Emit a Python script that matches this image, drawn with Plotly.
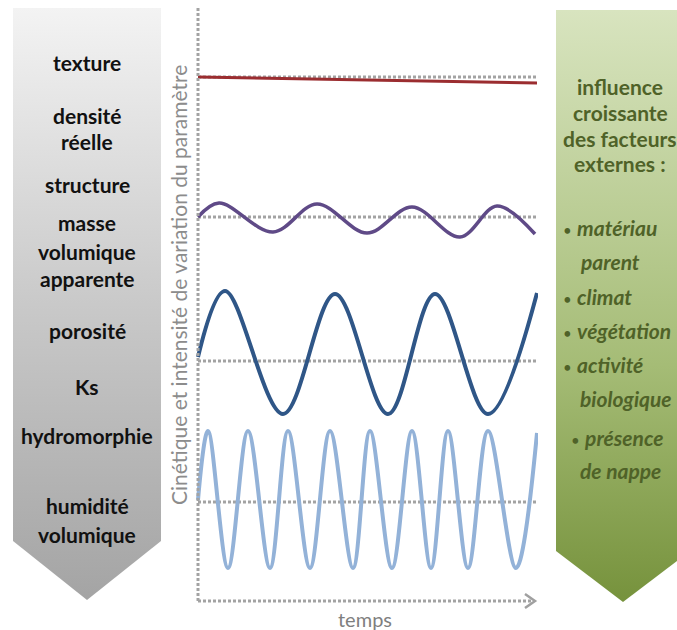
import plotly.graph_objects as go

# --- data (time 0..340, parameter value 0..600) ---
RED_T = [0, 339]
RED_V = [524, 518]
RED_BASE = 524

PURPLE_T = [0, 21, 75, 119, 169, 214, 262, 299, 337]
PURPLE_V = [384, 398, 369, 397, 368, 394, 364, 395, 367]
PURPLE_BASE = 384

DARK_T = [0, 27, 85, 137, 190, 237, 290, 339]
DARK_V = [244, 310, 187, 307, 187, 307, 187, 308]
DARK_BASE = 240

LIGHT_T = [0, 10, 30, 50, 72, 90, 112, 132, 155, 172, 194, 214, 233, 250, 270, 290, 318, 339]
LIGHT_V = [101, 170, 33, 170, 33, 170, 33, 170, 33, 170, 33, 170, 33, 170, 33, 170, 33, 168]
LIGHT_BASE = 99

LEFT_LABELS = [
    ("texture", 62), ("densité", 115), ("réelle", 141), ("structure", 184),
    ("masse", 222), ("volumique", 251), ("apparente", 278), ("porosité", 330),
    ("Ks", 386), ("hydromorphie", 435), ("humidité", 505), ("volumique", 534),
]
RIGHT_HEAD = [("influence", 86), ("croissante", 112), ("des facteurs", 138), ("externes :", 163)]
RIGHT_ITEMS = [
    ("•", "matériau", 561, 227), ("", "parent", 578, 261), ("•", "climat", 561, 296),
    ("•", "végétation", 561, 330), ("•", "activité", 561, 364), ("", "biologique", 578, 398),
    ("•", "présence", 569, 437), ("", "de nappe", 578, 470),
]

W, H = 677, 630
FONT = "Lato"
GREY_DOT = "#a3a3a3"

fig = go.Figure()

# --- side arrows (pixel-like overlay axes x2/y2) ---
left_x = [13, 161, 161, 87, 13, 13]
left_y = [H - v for v in [8, 8, 541, 600, 541, 8]]
right_x = [556, 690, 690, 623, 556, 556]
right_y = [H - v for v in [10, 10, 551, 602, 551, 10]]

fig.add_trace(go.Scatter(
    x=left_x, y=left_y, xaxis="x2", yaxis="y2", mode="lines", fill="toself",
    line=dict(width=0),
    fillgradient=dict(type="vertical", colorscale=[[0, "#a4a4a4"], [0.5, "#c9c9c9"], [1, "#f3f3f3"]]),
    hoverinfo="skip",
))
fig.add_trace(go.Scatter(
    x=right_x, y=right_y, xaxis="x2", yaxis="y2", mode="lines", fill="toself",
    line=dict(width=0),
    fillgradient=dict(type="vertical", colorscale=[[0, "#76923c"], [0.4, "#a5bc76"], [1, "#d8e4bf"]]),
    hoverinfo="skip",
))

# --- dotted baselines ---
dot = dict(color=GREY_DOT, width=3, dash="3px,2px")
for base in [RED_BASE, PURPLE_BASE, DARK_BASE, LIGHT_BASE]:
    fig.add_shape(type="line", x0=0, x1=339, y0=base, y1=base, xref="x", yref="y",
                  line=dot, layer="below")

# --- axes (dotted, with arrow on time) ---
fig.add_shape(type="line", x0=0, x1=0, y0=0, y1=593, xref="x", yref="y", line=dot)
fig.add_shape(type="line", x0=0, x1=333, y0=0, y1=0, xref="x", yref="y", line=dot)
fig.add_shape(type="path", path="M 327,7 L 337,0 L 327,-7", xref="x", yref="y",
              line=dict(color="#a0a0a0", width=2.5))

# --- series ---
series = [
    (RED_T, RED_V, "#9b2d30", 3, "linear"),
    (PURPLE_T, PURPLE_V, "#5f4a87", 3.5, "spline"),
    (DARK_T, DARK_V, "#2f5687", 4, "spline"),
    (LIGHT_T, LIGHT_V, "#93b2d8", 4, "spline"),
]
for t, v, col, w, shp in series:
    fig.add_trace(go.Scatter(x=t, y=v, mode="lines", line=dict(color=col, width=w, shape=shp),
                             hoverinfo="skip"))

# --- texts ---
ann = []
for txt, py in LEFT_LABELS:
    ann.append(dict(x=87, y=H - py, xref="x2", yref="y2", text=f"<b>{txt}</b>", showarrow=False,
                    font=dict(family=FONT, size=21, color="#111111")))
for txt, py in RIGHT_HEAD:
    ann.append(dict(x=620, y=H - py, xref="x2", yref="y2", text=f"<b>{txt}</b>", showarrow=False,
                    font=dict(family=FONT, size=21, color="#4f6228")))
for bullet, txt, px, py in RIGHT_ITEMS:
    lead = f"<span style='font-size:15px'>{bullet}</span> " if bullet else ""
    ann.append(dict(x=px, y=H - py, xref="x2", yref="y2", text=f"{lead}<b><i>{txt}</i></b>",
                    showarrow=False, xanchor="left", font=dict(family=FONT, size=21, color="#4f6228")))
ann.append(dict(x=178, y=H - 285, xref="x2", yref="y2", text="Cinétique et intensité de variation du paramètre",
                textangle=-90, showarrow=False, font=dict(family=FONT, size=21, color="#8c8c8c")))
ann.append(dict(x=365, y=H - 619, xref="x2", yref="y2", text="temps", showarrow=False,
                font=dict(family=FONT, size=20, color="#7f7f7f")))

fig.update_layout(
    width=W, height=H,
    margin=dict(l=0, r=0, t=0, b=0),
    paper_bgcolor="white", plot_bgcolor="rgba(0,0,0,0)",
    showlegend=False,
    annotations=ann,
    # ranges padded a little below/left of 0 so the axis lines and arrowhead are not clipped
    xaxis=dict(domain=[193 / W, 538 / W], range=[-5, 340], visible=False),
    yaxis=dict(domain=[19 / H, 629 / H], range=[-10, 600], visible=False),
    xaxis2=dict(domain=[0, 1], range=[0, W], visible=False, anchor="y2"),
    yaxis2=dict(domain=[0, 1], range=[0, H], visible=False, anchor="x2"),
)

# page body has a default 8px margin; drop it so the figure fills the window
fig.write_html("out.html", config={"displayModeBar": False},
               post_script="document.body.style.margin='0';")
